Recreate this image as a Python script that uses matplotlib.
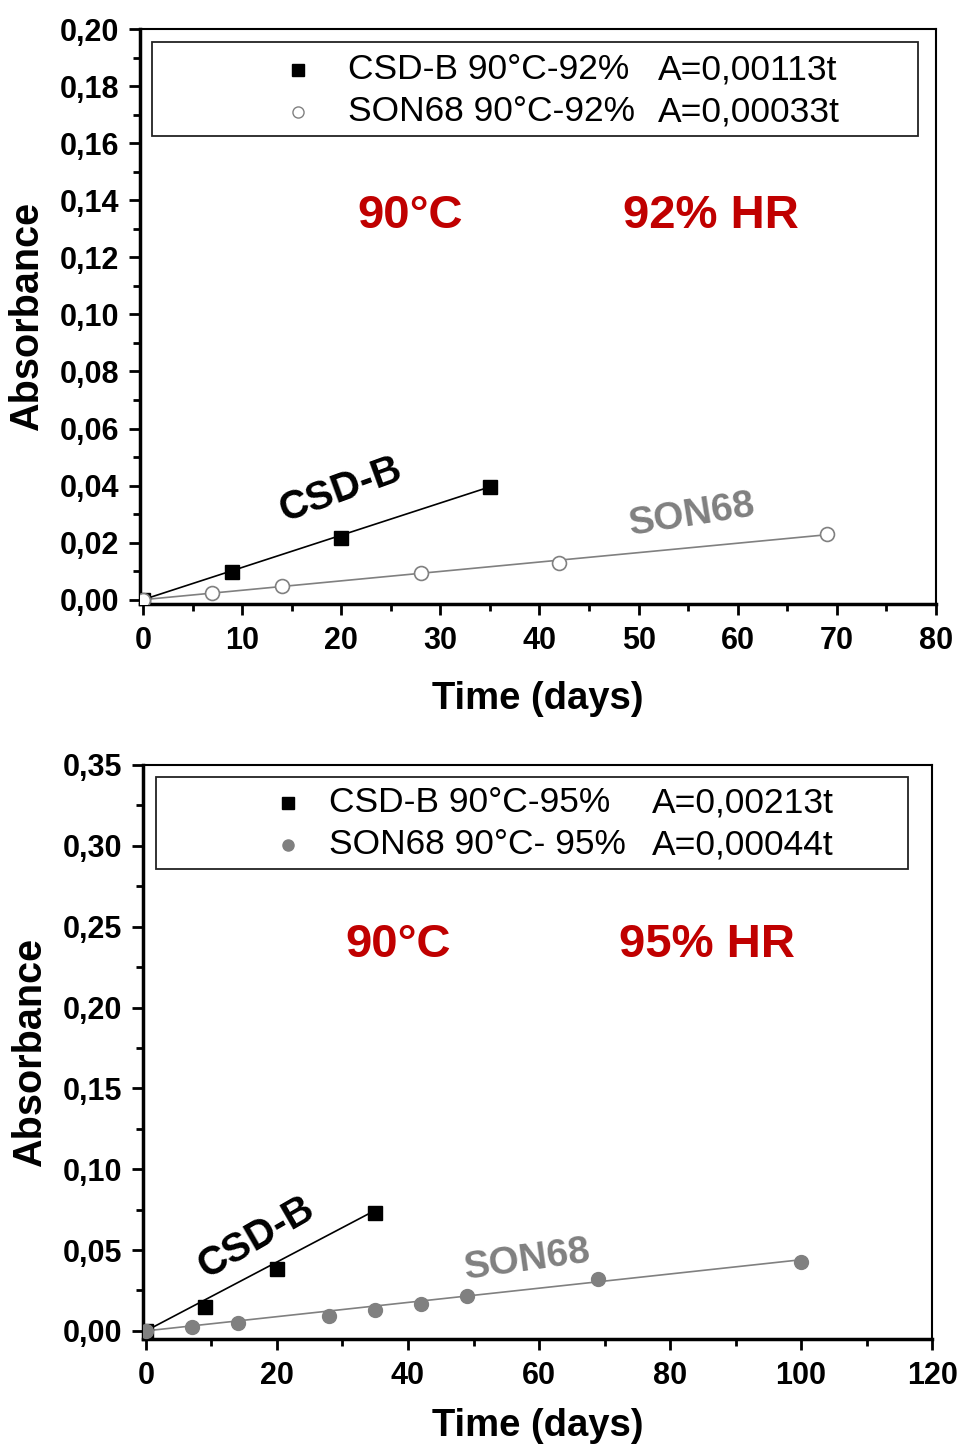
import numpy as np
import matplotlib
matplotlib.use("Agg")
import matplotlib.pyplot as plt
from matplotlib.ticker import MultipleLocator, FuncFormatter
from matplotlib.patches import Rectangle

plt.rcParams["font.family"] = ["Liberation Sans", "DejaVu Sans"]

# DATA - top panel (90°C, 92% HR)
t_csd_92 = [0, 9, 20, 35]
a_csd_92 = [0.0, 0.0098, 0.0216, 0.0394]
t_son_92 = [0, 7, 14, 28, 42, 69]
a_son_92 = [0.0, 0.0024, 0.0049, 0.0094, 0.0129, 0.0230]
k_csd_92 = 0.00113
k_son_92 = 0.00033

# DATA - bottom panel (90°C, 95% HR)
t_csd_95 = [0, 9, 20, 35]
a_csd_95 = [0.0, 0.0148, 0.038, 0.073]
t_son_95 = [0, 7, 14, 28, 35, 42, 49, 69, 100]
a_son_95 = [0.0, 0.0025, 0.005, 0.0093, 0.013, 0.0167, 0.0216, 0.032, 0.0426]
k_csd_95 = 0.00213
k_son_95 = 0.00044

RED = "#c00000"
GREY = "#808080"

comma = FuncFormatter(lambda v, p: ("%.2f" % v).replace(".", ","))


def style_axes(ax, xmaj, xmin, ymaj, ymin, xpad):
    ax.xaxis.set_major_locator(MultipleLocator(xmaj))
    ax.xaxis.set_minor_locator(MultipleLocator(xmin))
    ax.yaxis.set_major_locator(MultipleLocator(ymaj))
    ax.yaxis.set_minor_locator(MultipleLocator(ymin))
    ax.yaxis.set_major_formatter(comma)
    ax.tick_params(which="major", direction="out", length=8, width=2,
                   labelsize=22, top=False, right=False)
    ax.tick_params(axis="x", which="major", pad=8)
    ax.tick_params(axis="y", which="major", pad=7)
    ax.tick_params(which="minor", direction="out", length=5, width=2,
                   top=False, right=False)
    for lab in ax.get_xticklabels() + ax.get_yticklabels():
        lab.set_fontweight("bold")
    for s in ["left", "bottom"]:
        ax.spines[s].set_linewidth(2.5)
    for s in ["top", "right"]:
        ax.spines[s].set_linewidth(1.5)
    ax.set_xlabel("Time (days)", fontsize=27.5, fontweight="bold", labelpad=xpad)
    ax.set_ylabel("Absorbance", fontsize=28.5, fontweight="bold", labelpad=10)


def legend_box(ax, x0, x1, ytop, ybot, xm, xt, xa, y1, y2, rows):
    ax.add_patch(Rectangle((x0, ybot), x1 - x0, ytop - ybot, transform=ax.transAxes,
                           fill=False, edgecolor="#222222", linewidth=1.3, zorder=5))
    for y, (mk, mfc, mec, name, eq) in zip([y1, y2], rows):
        ax.plot([xm], [y], marker=mk, markersize=8, markerfacecolor=mfc,
                markeredgecolor=mec, linestyle="none", transform=ax.transAxes,
                zorder=6, clip_on=False)
        ax.text(xt, y, name, transform=ax.transAxes, fontsize=25.5,
                va="center", ha="left", zorder=6)
        ax.text(xa, y, eq, transform=ax.transAxes, fontsize=25.5,
                va="center", ha="left", zorder=6)


fig = plt.figure(figsize=(9.59, 14.48), dpi=100)

# TOP PANEL
ax1 = fig.add_axes([0.146, 0.5829, 0.830, 0.397])
tf = np.array([0, t_csd_92[-1]])
ax1.plot(tf, k_csd_92 * tf, color="black", linewidth=1.2, zorder=2)
tf2 = np.array([0, t_son_92[-1]])
ax1.plot(tf2, k_son_92 * tf2, color=GREY, linewidth=1.2, zorder=2)
ax1.plot(t_csd_92, a_csd_92, "s", color="black", markersize=10, zorder=3)
ax1.plot(t_son_92, a_son_92, "o", markerfacecolor="white", markeredgecolor=GREY,
         markersize=10, markeredgewidth=1.2, zorder=3)
ax1.set_xlim(-0.3, 80)
ax1.set_ylim(-0.0015, 0.20)
style_axes(ax1, 10, 5, 0.02, 0.01, 18)
legend_box(ax1, 0.015, 0.977, 0.977, 0.814, 0.198, 0.261, 0.651, 0.929, 0.856,
           [("s", "black", "black", "CSD-B 90°C-92%", "A=0,00113t"),
            ("o", "white", GREY, "SON68 90°C-92%", "A=0,00033t")])
ax1.text(0.339, 0.675, "90°C", transform=ax1.transAxes, color=RED, fontsize=34,
         fontweight="bold", ha="center", va="center")
ax1.text(0.717, 0.675, "92% HR", transform=ax1.transAxes, color=RED, fontsize=34,
         fontweight="bold", ha="center", va="center")
ax1.text(19.9, 0.0384, "CSD-B", color="black", fontsize=29, fontweight="bold",
         rotation=20, ha="center", va="center")
ax1.text(55.4, 0.0297, "SON68", color=GREY, fontsize=28, fontweight="bold",
         rotation=9, ha="center", va="center")

# BOTTOM PANEL
ax2 = fig.add_axes([0.149, 0.0753, 0.823, 0.3964])
tf = np.array([0, t_csd_95[-1]])
ax2.plot(tf, k_csd_95 * tf, color="black", linewidth=1.2, zorder=2)
tf2 = np.array([0, t_son_95[-1]])
ax2.plot(tf2, k_son_95 * tf2, color=GREY, linewidth=1.2, zorder=2)
ax2.plot(t_csd_95, a_csd_95, "s", color="black", markersize=10, zorder=3)
ax2.plot(t_son_95, a_son_95, "o", color=GREY, markersize=10, zorder=3)
ax2.set_xlim(-0.46, 120)
ax2.set_ylim(-0.005, 0.35)
style_axes(ax2, 20, 10, 0.05, 0.025, 12)
legend_box(ax2, 0.016, 0.970, 0.979, 0.819, 0.184, 0.236, 0.645, 0.934, 0.861,
           [("s", "black", "black", "CSD-B 90°C-95%", "A=0,00213t"),
            ("o", GREY, GREY, "SON68 90°C- 95%", "A=0,00044t")])
ax2.text(0.323, 0.687, "90°C", transform=ax2.transAxes, color=RED, fontsize=34,
         fontweight="bold", ha="center", va="center")
ax2.text(0.715, 0.687, "95% HR", transform=ax2.transAxes, color=RED, fontsize=34,
         fontweight="bold", ha="center", va="center")
ax2.text(16.8, 0.058, "CSD-B", color="black", fontsize=29, fontweight="bold",
         rotation=30, ha="center", va="center")
ax2.text(58.2, 0.0439, "SON68", color=GREY, fontsize=28, fontweight="bold",
         rotation=8, ha="center", va="center")

fig.savefig("out.png", dpi=100)
